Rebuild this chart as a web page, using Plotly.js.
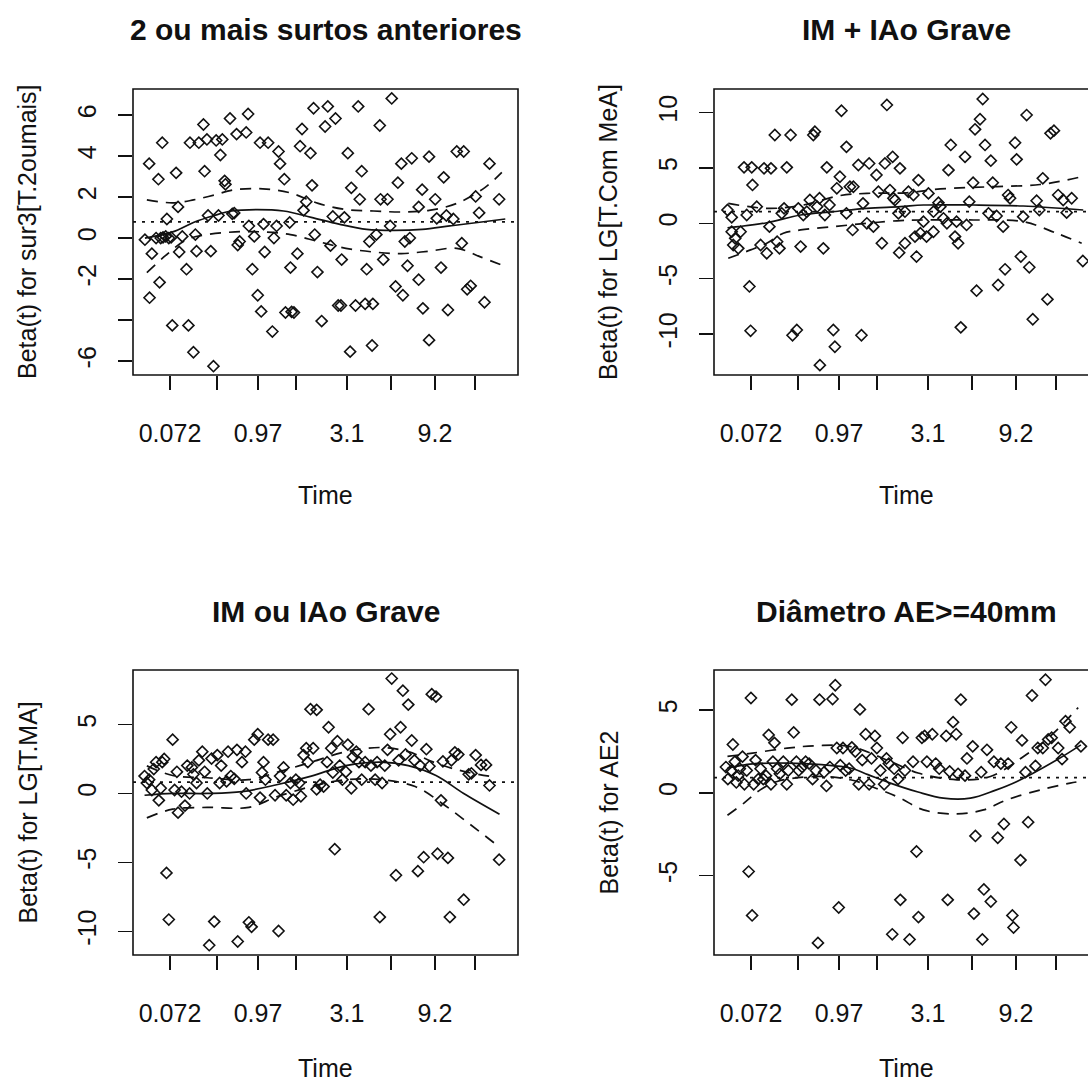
<!DOCTYPE html>
<html>
<head>
<meta charset="utf-8">
<script src="https://cdn.plot.ly/plotly-3.0.1.min.js"></script>
<style>html,body{margin:0;padding:0;background:#fff;overflow:hidden}#chart{width:1088px;height:1085px}</style>
</head>
<body>
<div id="chart"></div>
<script>
// ---------- shared time axis (transformed-time scale) ----------
const timeTickPos    = [0.0961, 0.2182, 0.3247, 0.4234, 0.5558, 0.6701, 0.7844, 0.8883];
const timeTickLabels = ['0.072', '', '0.97', '', '3.1', '', '9.2', ''];

// ---------- panel 1: 2 ou mais surtos anteriores ----------
const p1Title = '2 ou mais surtos anteriores';
const p1YLabel = 'Beta(t) for sur3[T.2oumais]';
const p1TickVals = [-6, -4, -2, 0, 2, 4, 6];
const p1TickText = ['-6', '', '-2', '0', '2', '4', '6'];
const p1X = [.031,.042,.049,.043,.060,.066,.069,.076,.072,.078,.085,.093,.099,.088,.102,.112,.117,.120,.128,.139,.144,.148,.157,.162,.165,.171,.183,.186,.192,.195,.202,.209,.216,.222,.227,.232,.238,.240,.252,.258,.263,.269,.272,.277,.294,.299,.301,.310,.315,.324,.330,.333,.339,.342,.351,.362,.366,.373,.378,.382,.393,.396,.407,.409,.412,.418,.427,.434,.439,.443,.450,.461,.465,.469,.472,.479,.490,.499,.506,.513,.519,.526,.533,.540,.542,.549,.558,.567,.564,.578,.585,.589,.594,.603,.607,.614,.623,.621,.632,.641,.643,.650,.661,.668,.672,.682,.688,.697,.701,.706,.713,.719,.724,.742,.742,.751,.753,.769,.769,.785,.789,.800,.807,.814,.818,.832,.841,.859,.854,.868,.877,.890,.899,.913,.926,.951];
const p1Y = [-0.08,3.63,-0.76,-2.91,0,2.87,-2.16,4.65,0,0.03,0.08,0,0.03,0.93,-4.26,3.18,1.52,-0.68,0.08,-1.52,-4.26,4.65,-5.57,0.17,-0.64,4.65,5.54,3.26,4.81,1.10,-0.64,-6.25,4.76,1.10,4.05,4.81,2.79,2.62,5.83,1.18,1.22,5.07,-0.34,-0.17,5.15,6.05,0.59,-1.52,0.08,-2.79,4.65,-3.58,0.68,-0.68,4.65,-4.56,0,0.59,4.22,3.63,2.87,-3.63,0.76,-1.44,-3.60,-3.63,-0.76,4.48,5.32,1.35,1.77,4.14,2.57,6.33,0.17,-1.66,-4.05,5.44,6.42,-0.37,1.05,5.83,-3.29,-3.29,-1.05,1.01,4.14,2.45,-5.54,-3.29,6.42,1.89,3.26,-3.21,-1.52,-0.17,-3.21,-5.24,0.17,5.49,1.89,-1.05,1.89,0.59,6.81,-2.36,2.70,3.63,-2.79,-0.17,-1.35,0,3.89,1.52,-2.03,2.36,-3.43,3.97,-4.98,1.89,0.96,-1.44,2.96,1.10,-3.51,0.93,4.22,4.22,-0.25,-2.50,-2.33,2.03,1.23,-3.13,3.63,1.89];
const p1FitX = [.031,.103,.157,.211,.256,.319,.391,.463,.535,.607,.679,.751,.823,.895,.967];
const p1Fit  = [0.0,0.3,0.76,1.1,1.32,1.39,1.32,1.01,0.68,0.42,0.37,0.42,0.59,0.76,0.93];
const p1UpX  = [.036,.103,.157,.211,.265,.337,.409,.481,.553,.625,.697,.769,.841,.913,.958];
const p1Up   = [1.86,1.72,1.86,2.1,2.36,2.4,2.2,1.69,1.39,1.32,1.27,1.35,1.69,2.45,3.2];
const p1LoX  = [.036,.085,.139,.193,.265,.337,.409,.481,.553,.625,.697,.769,.841,.904,.958];
const p1Lo   = [-1.69,-0.85,-0.08,0.17,0.3,0.3,0.17,-0.17,-0.5,-0.68,-0.76,-0.64,-0.5,-0.93,-1.32];
const p1Coef = 0.79;

// ---------- panel 2: IM + IAo Grave ----------
const p2Title = 'IM + IAo Grave';
const p2YLabel = 'Beta(t) for LG[T.Com MeA]';
const p2TickVals = [-10, -5, 0, 5, 10];
const p2TickText = ['-10', '-5', '0', '5', '10'];
const p2X = [.035,.046,.046,.05,.055,.063,.069,.078,.085,.092,.095,.098,.10,.111,.121,.13,.137,.144,.148,.158,.164,.17,.176,.182,.189,.199,.204,.215,.219,.225,.232,.241,.249,.258,.262,.268,.274,.275,.284,.288,.293,.30,.31,.314,.319,.327,.331,.344,.344,.353,.362,.36,.375,.383,.387,.397,.403,.414,.422,.427,.436,.444,.449,.457,.464,.466,.479,.481,.483,.47,.505,.518,.531,.496,.557,.583,.588,.57,.544,.536,.522,.496,.526,.552,.57,.596,.605,.626,.634,.63,.656,.609,.615,.652,.663,.673,.678,.691,.698,.704,.719,.724,.713,.734,.751,.682,.641,.738,.756,.764,.769,.782,.786,.797,.803,.812,.819,.828,.838,.845,.854,.866,.874,.883,.894,.907,.916,.929,.958];
const p2Y = [1.2,0.54,-0.76,-1.96,-1.36,-2.26,-0.76,5.05,0.75,-5.7,-9.7,5.05,3.46,1.5,-1.96,4.96,-2.7,-0.3,4.96,7.97,-1.66,-2.26,0.9,1.35,5.05,7.97,-10.1,-9.63,1.35,-2.1,0.75,1.05,2.1,7.97,8.27,1.5,2.26,-12.8,-2.26,0.75,5.05,1.65,-9.63,-11.14,3.16,4.2,10.16,6.9,0.9,3.3,3.3,-0.6,5.26,-10.1,1.8,0,5.4,-0.3,4.36,2.85,-1.8,5.4,10.68,3.0,6.0,2.26,0.9,-2.65,4.96,2.1,2.85,2.55,3.9,1.05,2.7,1.86,1.5,1.05,0.15,-0.9,-1.2,-1.8,-3.0,-1.2,-0.76,0.45,0,-1.2,-1.8,0.15,-0.15,4.8,7.07,6.0,1.95,3.66,8.48,9.39,11.22,7.07,5.65,3.66,0.9,0.66,-0.3,-6.08,-9.39,-5.57,-4.15,2.55,2.26,7.27,5.77,-3.0,0.6,9.77,-3.97,-8.66,2.04,1.2,4.06,-6.86,8.12,8.36,2.55,2.1,0.96,2.26,-3.4];
const p2FitX = [.035,.063,.137,.225,.31,.397,.484,.544,.674,.803,.959];
const p2Fit  = [-0.4,-0.3,0.05,0.75,1.05,1.35,1.5,1.65,1.65,1.56,1.2];
const p2UpX  = [.037,.137,.225,.327,.397,.50,.588,.718,.847,.955];
const p2Up   = [1.8,1.35,1.6,2.5,2.7,2.75,3.1,3.3,3.5,4.2];
const p2LoX  = [.037,.095,.137,.18,.225,.31,.397,.484,.544,.674,.803,.89,.955];
const p2Lo   = [-3.16,-2.4,-1.8,-0.9,-0.6,-0.3,0,0.25,0.3,0.3,0.15,-0.9,-1.8];
const p2Coef = 1.05;

// ---------- panel 3: IM ou IAo Grave ----------
const p3Title = 'IM ou IAo Grave';
const p3YLabel = 'Beta(t) for LG[T.MA]';
const p3TickVals = [-10, -5, 0, 5];
const p3TickText = ['-10', '-5', '0', '5'];
const p3X = [.030,.036,.042,.049,.054,.060,.067,.072,.076,.081,.087,.093,.103,.108,.114,.117,.126,.135,.141,.147,.153,.157,.165,.171,.180,.186,.193,.198,.204,.211,.219,.225,.229,.243,.247,.254,.263,.270,.272,.283,.292,.294,.301,.308,.315,.324,.330,.335,.339,.344,.351,.364,.369,.378,.382,.391,.398,.409,.416,.423,.432,.436,.443,.450,.454,.461,.468,.477,.477,.486,.495,.504,.508,.515,.519,.524,.531,.537,.544,.553,.558,.567,.571,.580,.587,.594,.603,.612,.618,.629,.634,.641,.647,.654,.661,.668,.672,.683,.690,.695,.701,.708,.715,.724,.731,.740,.746,.755,.762,.770,.776,.787,.791,.800,.805,.818,.823,.827,.836,.845,.859,.872,.879,.890,.904,.917,.926,.951];
const p3Y = [1.26,0.76,1.0,0.25,1.77,2.27,-0.5,0.38,2.27,2.5,-5.76,-9.14,3.9,0.25,1.57,-1.39,0.13,-0.88,2.02,0.0,1.89,1.39,0.76,2.4,3.03,1.57,0,-11.0,2.53,-9.29,2.78,0.76,2.02,0.88,3.03,1.26,1.06,3.16,-10.73,2.27,3.03,0,-9.34,-9.67,3.9,4.29,-0.3,1.52,2.27,1.0,3.9,3.9,-0.13,-9.97,1.26,1.89,-0.13,0.76,-0.45,1.0,0.76,-0.2,2.78,3.28,2.27,6.11,3.28,6.06,0.3,0.63,0.5,2.27,4.8,3.28,1.52,-4.04,3.79,2.02,1.0,1.57,3.54,0.38,2.65,3.03,2.27,1.0,2.27,6.11,2.02,1.0,2.27,-8.96,0.76,2.02,3.16,4.29,8.33,-5.93,2.4,4.8,7.45,2.83,6.44,3.84,2.4,-5.63,2.02,-4.62,3.21,1.97,7.2,7.02,-4.37,-0.5,2.32,-4.67,-8.96,2.4,2.98,2.83,-7.7,1.39,1.46,2.78,2.07,2.07,0.58,-4.8];
const p3FitX = [.03,.103,.193,.283,.373,.463,.553,.643,.715,.787,.859,.952];
const p3Fit  = [-0.13,0,0,0.13,0.63,1.26,2.02,2.27,2.02,1.3,0,-1.5];
const p3UpX  = [.036,.103,.193,.301,.373,.463,.553,.643,.715,.787,.859,.932];
const p3Up   = [2.0,1.3,1.14,1.0,1.52,2.27,3.03,3.33,3.03,2.2,1.6,1.22];
const p3LoX  = [.036,.103,.193,.301,.373,.463,.553,.643,.733,.805,.877,.953];
const p3Lo   = [-1.77,-1.14,-1.01,-1.01,-0.25,0.5,1.0,1.0,0.5,-0.76,-2.27,-3.91];
const p3Coef = 0.82;

// ---------- panel 4: Diâmetro AE>=40mm ----------
const p4Title = 'Diâmetro AE>=40mm';
const p4YLabel = 'Beta(t) for AE2';
const p4TickVals = [-5, 0, 5];
const p4TickText = ['-5', '0', '5'];
const p4X = [.031,.036,.049,.045,.054,.058,.063,.067,.074,.079,.085,.090,.096,.099,.103,.108,.115,.121,.128,.135,.142,.148,.153,.157,.164,.171,.180,.189,.193,.202,.207,.214,.220,.229,.238,.247,.256,.265,.270,.274,.286,.292,.301,.308,.315,.319,.324,.328,.335,.342,.351,.358,.367,.376,.379,.385,.394,.403,.409,.418,.423,.432,.442,.448,.454,.463,.468,.478,.484,.490,.496,.508,.517,.526,.531,.540,.547,.553,.567,.576,.585,.603,.607,.612,.621,.629,.634,.641,.652,.657,.672,.675,.679,.694,.697,.701,.709,.719,.727,.737,.745,.753,.764,.772,.775,.778,.796,.800,.809,.816,.826,.835,.841,.854,.861,.868,.877,.894,.904,.913,.924,.953];
const p4Y = [1.56,0.83,2.92,1.35,1.88,0.63,1.04,1.46,2.19,0.52,1.35,-4.75,5.73,-7.4,0.52,1.98,0.83,1.46,0.83,1.04,3.5,0.52,1.88,3.02,1.46,1.15,1.88,0.52,1.35,5.63,3.65,1.88,1.35,1.56,1.88,1.77,0.83,1.35,-9.06,5.63,1.25,0.42,1.56,5.67,6.5,2.71,-6.92,1.67,2.71,1.35,1.46,2.75,2.5,0.52,5.04,1.98,3.54,0.52,2.08,3.44,2.71,1.35,0.52,2.08,1.77,-8.54,1.46,0.83,-6.46,3.33,1.35,-8.85,1.88,-3.54,-7.5,3.33,3.44,1.88,3.54,1.77,1.46,3.44,-6.46,1.29,4.27,3.54,1.15,5.63,1.04,2.08,2.81,-7.29,-2.6,1.25,-8.85,-5.83,2.6,-6.56,1.88,-2.71,1.77,-1.88,1.77,3.96,-7.4,-8.13,-4.06,3.17,1.25,-1.77,5.88,1.63,2.71,2.71,6.83,3.23,3.33,2.71,2.04,4.33,3.96,2.81];
const p4FitX = [.035,.1,.19,.28,.354,.40,.458,.53,.596,.666,.73,.787,.891,.953];
const p4Fit  = [1.5,1.75,1.8,1.7,1.5,1.1,0.59,0.05,-0.32,-0.32,0.15,0.69,2.0,2.9];
const p4UpX  = [.035,.1,.19,.267,.354,.458,.53,.631,.718,.804,.873,.946];
const p4Up   = [2.2,2.4,2.7,2.85,2.8,1.9,1.2,0.79,0.99,2.2,3.41,5.15];
const p4LoX  = [.035,.077,.12,.164,.267,.354,.43,.484,.544,.631,.70,.761,.848,.925,.953];
const p4Lo   = [-1.35,-0.63,0.18,0.69,0.99,0.79,0.2,-0.32,-1.03,-1.27,-1.03,-0.42,0.18,0.59,0.7];
const p4Coef = 0.92;

// ---------- layout geometry (pixels of the 1088x1085 page) ----------
const W = 1088, H = 1085;
const FONT = '"Liberation Sans", Arial, sans-serif';
const INK = '#111';
const BOX_W = 385;

const panels = [
  {t:p1Title, yl:p1YLabel, tv:p1TickVals, tt:p1TickText, x:p1X, y:p1Y, fx:p1FitX, f:p1Fit, ux:p1UpX, u:p1Up, lx:p1LoX, l:p1Lo, c:p1Coef,
   left:133, top:89, bottom:375, yr:[-6.68, 7.27], timeY:495},
  {t:p2Title, yl:p2YLabel, tv:p2TickVals, tt:p2TickText, x:p2X, y:p2Y, fx:p2FitX, f:p2Fit, ux:p2UpX, u:p2Up, lx:p2LoX, l:p2Lo, c:p2Coef,
   left:714, top:89, bottom:375, yr:[-13.69, 12.12], timeY:495},
  {t:p3Title, yl:p3YLabel, tv:p3TickVals, tt:p3TickText, x:p3X, y:p3Y, fx:p3FitX, f:p3Fit, ux:p3UpX, u:p3Up, lx:p3LoX, l:p3Lo, c:p3Coef,
   left:133, top:670, bottom:955, yr:[-11.71, 8.95], timeY:1068},
  {t:p4Title, yl:p4YLabel, tv:p4TickVals, tt:p4TickText, x:p4X, y:p4Y, fx:p4FitX, f:p4Fit, ux:p4UpX, u:p4Up, lx:p4LoX, l:p4Lo, c:p4Coef,
   left:714, top:670, bottom:955, yr:[-9.79, 7.42], timeY:1068}
];

const data = [];
const layout = {
  width: W, height: H, margin:{l:0,r:0,t:0,b:0},
  paper_bgcolor:'#fff', plot_bgcolor:'#fff', showlegend:false,
  font:{family:FONT, color:INK}, shapes:[], annotations:[]
};

panels.forEach((p, i) => {
  const n = i === 0 ? '' : String(i + 1);
  const xa = 'xaxis' + n, ya = 'yaxis' + n, xr = 'x' + n, yr = 'y' + n;
  const right = Math.min(p.left + BOX_W, W);
  const xmax = (right - p.left) / BOX_W;
  layout[xa] = {
    domain:[p.left / W, right / W], range:[0, xmax], anchor:yr,
    tickvals:timeTickPos, ticktext:timeTickLabels,
    ticks:'outside', ticklen:14, tickwidth:1.4, tickcolor:INK,
    showgrid:false, zeroline:false, showline:false,
    tickfont:{family:FONT, size:25, color:INK}, ticklabelstandoff:22, fixedrange:true
  };
  layout[ya] = {
    domain:[1 - p.bottom / H, 1 - p.top / H], range:p.yr, anchor:xr,
    tickvals:p.tv, ticktext:p.tt, tickangle:-90,
    ticks:'outside', ticklen:14, tickwidth:1.4, tickcolor:INK,
    showgrid:false, zeroline:false, showline:false,
    tickfont:{family:FONT, size:25, color:INK}, ticklabelstandoff:12, fixedrange:true
  };
  // plot box (right edge of the right-hand panels falls outside the page)
  layout.shapes.push({type:'rect', xref:xr + ' domain', yref:yr + ' domain',
    x0:0, x1:BOX_W / (right - p.left), y0:0, y1:1, line:{color:INK, width:1.6}, layer:'above'});
  // coefficient reference line
  layout.shapes.push({type:'line', xref:xr + ' domain', yref:yr, x0:0, x1:1, y0:p.c, y1:p.c,
    line:{color:INK, width:1.7, dash:'3px,6px'}});
  // titles and axis labels
  const cx = (p.left + BOX_W / 2) / W;
  layout.annotations.push({text:'<b>' + p.t + '</b>', xref:'paper', yref:'paper', x:cx, y:1 - (p.top - 59) / H,
    xanchor:'center', yanchor:'middle', showarrow:false, font:{family:FONT, size:30, color:INK}});
  layout.annotations.push({text:'Time', xref:'paper', yref:'paper', x:cx, y:1 - p.timeY / H,
    xanchor:'center', yanchor:'middle', showarrow:false, font:{family:FONT, size:25, color:INK}});
  layout.annotations.push({text:p.yl, xref:'paper', yref:'paper', x:(p.left - 106) / W, y:1 - ((p.top + p.bottom) / 2) / H,
    xanchor:'center', yanchor:'middle', textangle:-90, showarrow:false, font:{family:FONT, size:25, color:INK}});

  data.push({type:'scatter', mode:'markers', x:p.x, y:p.y, xaxis:xr, yaxis:yr,
    marker:{symbol:'diamond-open', size:8.5, color:INK, line:{width:1.6, color:INK}}, hoverinfo:'skip'});
  data.push({type:'scatter', mode:'lines', x:p.fx, y:p.f, xaxis:xr, yaxis:yr,
    line:{color:INK, width:1.7, shape:'spline'}, hoverinfo:'skip'});
  data.push({type:'scatter', mode:'lines', x:p.ux, y:p.u, xaxis:xr, yaxis:yr,
    line:{color:INK, width:1.7, dash:'11px,8px', shape:'spline'}, hoverinfo:'skip'});
  data.push({type:'scatter', mode:'lines', x:p.lx, y:p.l, xaxis:xr, yaxis:yr,
    line:{color:INK, width:1.7, dash:'11px,8px', shape:'spline'}, hoverinfo:'skip'});
});

Plotly.newPlot('chart', data, layout, {staticPlot:true, displayModeBar:false});
</script>
</body>
</html>
